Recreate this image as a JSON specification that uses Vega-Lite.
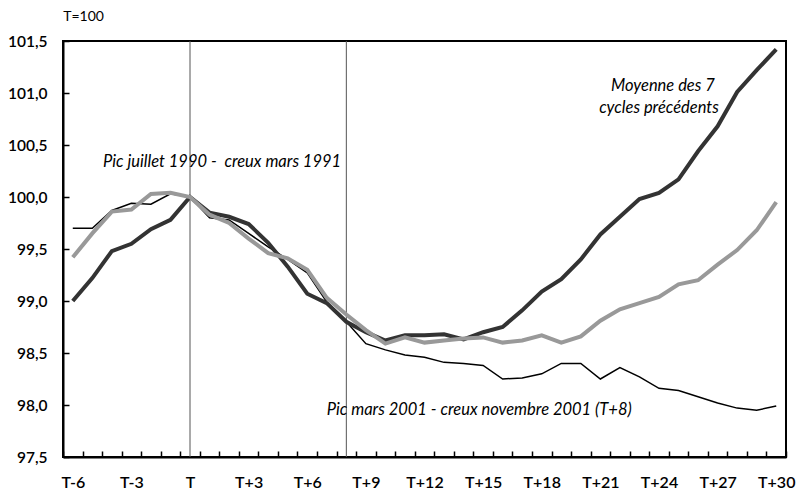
{
  "$schema": "https://vega.github.io/schema/vega-lite/v6.json",
  "width": 723,
  "height": 416,
  "autosize": {"type": "none"},
  "padding": {"left": 63, "top": 41, "right": 12, "bottom": 35},
  "background": "white",
  "config": {
    "font": "Lato",
    "view": {"stroke": "black", "strokeWidth": 2},
    "axis": {
      "grid": false,
      "domainColor": "black",
      "domainWidth": 2,
      "tickColor": "black",
      "tickWidth": 1.5,
      "labelColor": "black",
      "labelFont": "Lato",
      "labelFontWeight": 600,
      "labelOverlap": false,
      "labelFlush": false,
      "zindex": 1,
      "title": null
    }
  },
  "resolve": {"axis": {"x": "independent", "y": "independent"}},
  "datasets": {
    "series": [
      {"k": -6, "moy": 99.00, "c1990": 99.42, "c2001": 99.70},
      {"k": -5, "moy": 99.22, "c1990": 99.65, "c2001": 99.70},
      {"k": -4, "moy": 99.48, "c1990": 99.86, "c2001": 99.87},
      {"k": -3, "moy": 99.55, "c1990": 99.88, "c2001": 99.94},
      {"k": -2, "moy": 99.69, "c1990": 100.03, "c2001": 99.93},
      {"k": -1, "moy": 99.78, "c1990": 100.04, "c2001": 100.03},
      {"k": 0, "moy": 100.00, "c1990": 100.00, "c2001": 100.00},
      {"k": 1, "moy": 99.85, "c1990": 99.83, "c2001": 99.80},
      {"k": 2, "moy": 99.81, "c1990": 99.75, "c2001": 99.78},
      {"k": 3, "moy": 99.74, "c1990": 99.60, "c2001": 99.65},
      {"k": 4, "moy": 99.56, "c1990": 99.46, "c2001": 99.52},
      {"k": 5, "moy": 99.33, "c1990": 99.41, "c2001": 99.40},
      {"k": 6, "moy": 99.07, "c1990": 99.30, "c2001": 99.27},
      {"k": 7, "moy": 98.98, "c1990": 99.03, "c2001": 98.99},
      {"k": 8, "moy": 98.80, "c1990": 98.87, "c2001": 98.80},
      {"k": 9, "moy": 98.70, "c1990": 98.72, "c2001": 98.59},
      {"k": 10, "moy": 98.62, "c1990": 98.59, "c2001": 98.53},
      {"k": 11, "moy": 98.67, "c1990": 98.65, "c2001": 98.48},
      {"k": 12, "moy": 98.67, "c1990": 98.60, "c2001": 98.46},
      {"k": 13, "moy": 98.68, "c1990": 98.62, "c2001": 98.41},
      {"k": 14, "moy": 98.63, "c1990": 98.64, "c2001": 98.40},
      {"k": 15, "moy": 98.70, "c1990": 98.65, "c2001": 98.38},
      {"k": 16, "moy": 98.75, "c1990": 98.60, "c2001": 98.25},
      {"k": 17, "moy": 98.91, "c1990": 98.62, "c2001": 98.26},
      {"k": 18, "moy": 99.09, "c1990": 98.67, "c2001": 98.30},
      {"k": 19, "moy": 99.21, "c1990": 98.60, "c2001": 98.40},
      {"k": 20, "moy": 99.40, "c1990": 98.66, "c2001": 98.40},
      {"k": 21, "moy": 99.64, "c1990": 98.81, "c2001": 98.25},
      {"k": 22, "moy": 99.81, "c1990": 98.92, "c2001": 98.36},
      {"k": 23, "moy": 99.98, "c1990": 98.98, "c2001": 98.27},
      {"k": 24, "moy": 100.04, "c1990": 99.04, "c2001": 98.16},
      {"k": 25, "moy": 100.17, "c1990": 99.16, "c2001": 98.14},
      {"k": 26, "moy": 100.44, "c1990": 99.20, "c2001": 98.08},
      {"k": 27, "moy": 100.68, "c1990": 99.35, "c2001": 98.02},
      {"k": 28, "moy": 101.01, "c1990": 99.49, "c2001": 97.97},
      {"k": 29, "moy": 101.22, "c1990": 99.68, "c2001": 97.95},
      {"k": 30, "moy": 101.42, "c1990": 99.95, "c2001": 97.99}
    ],
    "markers": [{"k": 0}, {"k": 8}],
    "unit": [{"k": -5.45, "v": 101.73, "txt": "T=100"}],
    "notesLeft": [
      {"k": -4.45, "v": 100.34, "txt": "Pic juillet 1990 -\u00a0 creux mars 1991"},
      {"k": 7.0, "v": 97.95, "txt": "Pic mars 2001 - creux novembre 2001 (T+8)"}
    ],
    "notesCenter": [
      {"k": 24.2, "v": 101.07, "txt": "Moyenne des 7"},
      {"k": 24.0, "v": 100.86, "txt": "cycles précédents"}
    ]
  },
  "layer": [
    {
      "data": {"name": "markers"},
      "mark": {"type": "rule", "color": "#555555", "strokeWidth": 1},
      "encoding": {
        "x": {
          "field": "k", "type": "quantitative",
          "scale": {"domain": [-6.5, 30.5], "nice": false, "zero": false},
          "axis": {
            "orient": "bottom",
            "values": [-6.5,-5.5,-4.5,-3.5,-2.5,-1.5,-0.5,0.5,1.5,2.5,3.5,4.5,5.5,6.5,7.5,8.5,9.5,10.5,11.5,12.5,13.5,14.5,15.5,16.5,17.5,18.5,19.5,20.5,21.5,22.5,23.5,24.5,25.5,26.5,27.5,28.5,29.5,30.5],
            "labelExpr": "((datum.value + 0.5) % 3 == 0 && datum.value < 30.6) ? ((datum.value + 0.5) == 0 ? 'T' : ((datum.value + 0.5) > 0 ? 'T+' + (datum.value + 0.5) : 'T' + (datum.value + 0.5))) : ''",
            "labelOffset": 9.77,
            "labelFontSize": 16,
            "labelPadding": 17,
            "labelBound": false,
            "ticks": false
          }
        }
      }
    },
    {
      "data": {"name": "series"},
      "mark": {"type": "line", "color": "#000000", "strokeWidth": 1.5},
      "encoding": {
        "x": {"field": "k", "type": "quantitative", "axis": null},
        "y": {
          "field": "c2001", "type": "quantitative",
          "scale": {"domain": [97.5, 101.5], "nice": false, "zero": false},
          "axis": {
            "orient": "left",
            "values": [97.5, 98, 98.5, 99, 99.5, 100, 100.5, 101, 101.5],
            "labelExpr": "replace(format(datum.value, '.1f'), '.', ',')",
            "labelFontSize": 15.5,
            "labelPadding": 16,
            "ticks": false
          }
        }
      }
    },
    {
      "data": {"name": "series"},
      "mark": {"type": "line", "color": "#333333", "strokeWidth": 4},
      "encoding": {
        "x": {"field": "k", "type": "quantitative", "axis": null},
        "y": {"field": "moy", "type": "quantitative", "axis": null}
      }
    },
    {
      "data": {"name": "series"},
      "mark": {"type": "line", "color": "#999999", "strokeWidth": 4},
      "encoding": {
        "x": {
          "field": "k", "type": "quantitative",
          "axis": {
            "orient": "bottom",
            "offset": -6,
            "values": [-6.5,-5.5,-4.5,-3.5,-2.5,-1.5,-0.5,0.5,1.5,2.5,3.5,4.5,5.5,6.5,7.5,8.5,9.5,10.5,11.5,12.5,13.5,14.5,15.5,16.5,17.5,18.5,19.5,20.5,21.5,22.5,23.5,24.5,25.5,26.5,27.5,28.5,29.5,30.5],
            "domain": false,
            "labels": false,
            "ticks": true,
            "tickSize": 6
          }
        },
        "y": {
          "field": "c1990", "type": "quantitative",
          "axis": {
            "orient": "left",
            "offset": -6,
            "values": [97.5, 98, 98.5, 99, 99.5, 100, 100.5, 101, 101.5],
            "domain": false,
            "labels": false,
            "ticks": true,
            "tickSize": 6
          }
        }
      }
    },
    {
      "data": {"name": "unit"},
      "mark": {"type": "text", "fontSize": 14, "color": "black", "baseline": "middle", "align": "center", "clip": false},
      "encoding": {
        "x": {"field": "k", "type": "quantitative", "axis": null},
        "y": {"field": "v", "type": "quantitative", "axis": null},
        "text": {"field": "txt"}
      }
    },
    {
      "data": {"name": "notesLeft"},
      "mark": {"type": "text", "fontSize": 16.5, "fontStyle": "italic", "color": "black", "baseline": "middle", "align": "left", "clip": false},
      "encoding": {
        "x": {"field": "k", "type": "quantitative", "axis": null},
        "y": {"field": "v", "type": "quantitative", "axis": null},
        "text": {"field": "txt"}
      }
    },
    {
      "data": {"name": "notesCenter"},
      "mark": {"type": "text", "fontSize": 16.5, "fontStyle": "italic", "color": "black", "baseline": "middle", "align": "center", "clip": false},
      "encoding": {
        "x": {"field": "k", "type": "quantitative", "axis": null},
        "y": {"field": "v", "type": "quantitative", "axis": null},
        "text": {"field": "txt"}
      }
    }
  ]
}
